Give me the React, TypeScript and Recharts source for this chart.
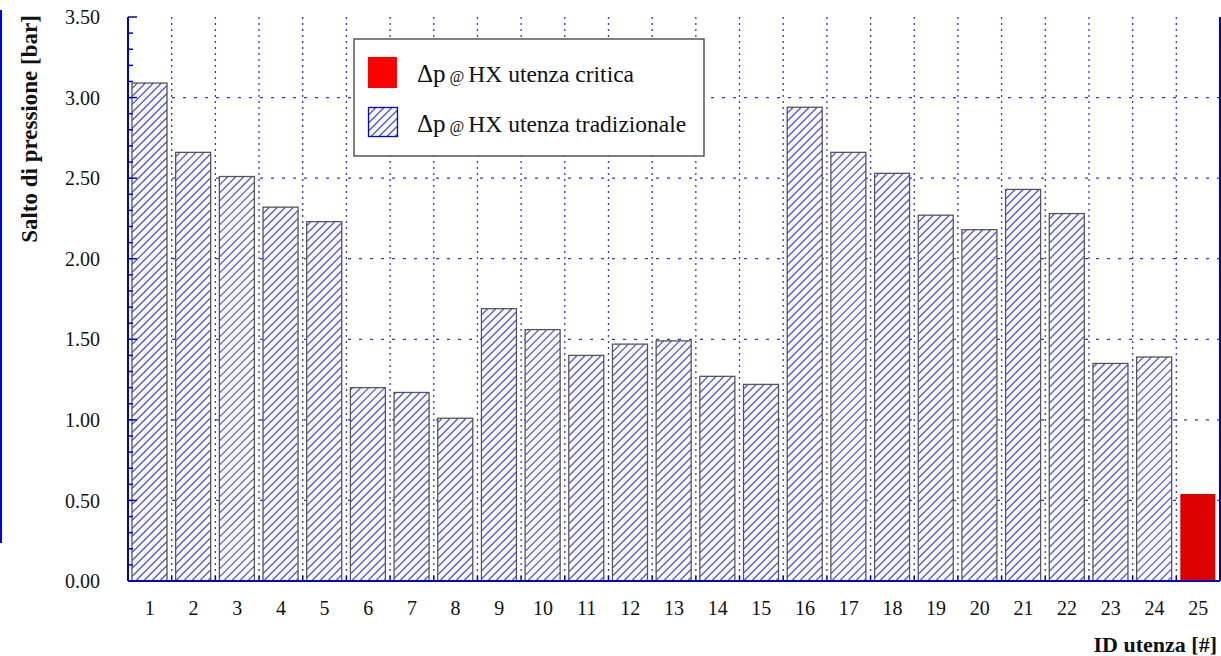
import React from 'react';
import { BarChart, Bar, XAxis, YAxis, CartesianGrid, Legend } from 'recharts';

const userIds = ['1','2','3','4','5','6','7','8','9','10','11','12','13','14','15','16','17','18','19','20','21','22','23','24','25'];
const pressureDrop = [3.09, 2.66, 2.51, 2.32, 2.23, 1.20, 1.17, 1.01, 1.69, 1.56, 1.40, 1.47, 1.49, 1.27, 1.22, 2.94, 2.66, 2.53, 2.27, 2.18, 2.43, 2.28, 1.35, 1.39, 0.54];
const criticalId = '25';
const yTickLabels = ['0.00', '0.50', '1.00', '1.50', '2.00', '2.50', '3.00', '3.50'];
const yMinorTicks = Array.from({ length: 36 }, (_, i) => Math.round(i * 10) / 100);
const gridValues = [0.5, 1, 1.5, 2, 2.5, 3];
const legendLabels = ['HX utenza critica', 'HX utenza tradizionale'];
const yTitle = 'Salto di pressione [bar]';
const xTitle = 'ID utenza [#]';

const data = userIds.map((id, i) => ({ id, value: pressureDrop[i] }));

const FONT = "'Liberation Serif', 'Times New Roman', serif";
const BLUE = '#0000cc';
const GRID = '#3535dd';
const HATCH = '#5656f0';
const HATCH_STEP = 8;
const HATCH_PHASE = 4.5;
const Y_MAX = 3.5;

const isMajor = (v: number) => Math.abs(v * 2 - Math.round(v * 2)) < 1e-6;

// diagonal "/" hatch lines x' + y' = c, c on a global 8px grid, clipped to the rectangle
function hatchLines(x: number, y: number, w: number, h: number, key: string) {
  const out: React.ReactNode[] = [];
  const cStart = Math.ceil((x + y - HATCH_PHASE) / HATCH_STEP) * HATCH_STEP + HATCH_PHASE;
  let k = 0;
  for (let c = cStart; c < x + w + y + h; c += HATCH_STEP) {
    const x1 = Math.max(x, c - y - h);
    const x2 = Math.min(x + w, c - y);
    if (x2 > x1) {
      out.push(
        <line key={`${key}-${k++}`} x1={x1} y1={c - x1} x2={x2} y2={c - x2} stroke={HATCH} strokeWidth={1.35} />
      );
    }
  }
  return out;
}

function HatchedBar(props: any) {
  const { x, y, width, height, payload, index } = props;
  if (!(width > 0) || !(height > 0)) return <g />;
  if (payload && payload.id === criticalId) {
    return <rect x={x} y={y} width={width} height={height} fill="#dc0000" />;
  }
  return (
    <g>
      <rect x={x} y={y} width={width} height={height} fill="#ffffff" />
      {hatchLines(x, y, width, height, `b${index}`)}
      <rect x={x} y={y} width={width} height={height} fill="none" stroke="#555" strokeWidth={1.3} />
    </g>
  );
}

function LeftTick(props: any) {
  const { x, y, payload } = props;
  const v = Number(payload.value);
  const major = isMajor(v);
  return (
    <g>
      <line x1={x} y1={y} x2={x + (major ? 9 : 5)} y2={y} stroke={BLUE} strokeWidth={1.5} />
      {major && (
        <text x={x - 28} y={y} dy="0.36em" textAnchor="end" fontFamily={FONT} fontSize={20} fill="#111">
          {yTickLabels[Math.round(v * 2)]}
        </text>
      )}
    </g>
  );
}

function RightTick(props: any) {
  const { x, y, payload } = props;
  const v = Number(payload.value);
  const major = isMajor(v);
  return <line x1={x} y1={y} x2={x - (major ? 9 : 5)} y2={y} stroke={BLUE} strokeWidth={1.5} />;
}

function stepOf(props: any) {
  const n = props.visibleTicksCount || userIds.length;
  const w = props.width || 1092;
  return w / n;
}

function BottomTick(props: any) {
  const { x, y, payload, index } = props;
  const step = stepOf(props);
  const n = props.visibleTicksCount || userIds.length;
  return (
    <g>
      {index < n - 1 && (
        <line x1={x + step / 2} y1={y} x2={x + step / 2} y2={y - 5} stroke={BLUE} strokeWidth={1.5} />
      )}
      <text x={x} y={y + 34} textAnchor="middle" fontFamily={FONT} fontSize={20} fill="#111">
        {payload.value}
      </text>
    </g>
  );
}

function TopTick(props: any) {
  const { x, y, index } = props;
  const step = stepOf(props);
  const n = props.visibleTicksCount || userIds.length;
  if (index >= n - 1) return <g />;
  return <line x1={x + step / 2} y1={y} x2={x + step / 2} y2={y + 5} stroke={BLUE} strokeWidth={1.5} />;
}

function YTitle() {
  return (
    <text x={37} y={129} transform="rotate(-90 37 129)" textAnchor="middle" fontFamily={FONT} fontWeight="bold" fontSize={23} fill="#111">
      {yTitle}
    </text>
  );
}

function XTitle() {
  return (
    <text x={1217} y={652} textAnchor="end" fontFamily={FONT} fontWeight="bold" fontSize={22} fill="#111">
      {xTitle}
    </text>
  );
}

function LegendLine({ y, label }: { y: number; label: string }) {
  return (
    <text x={64} y={y} fontFamily={FONT} fill="#111">
      <tspan fontSize={25}>Δp</tspan>
      <tspan fontSize={16}> @ </tspan>
      <tspan fontSize={23.5}>{label}</tspan>
    </text>
  );
}

function LegendBox() {
  return (
    <svg width={352} height={119} style={{ display: 'block' }}>
      <rect x={1} y={1} width={350} height={117} fill="#fff" stroke="#555" strokeWidth={1.5} />
      <rect x={15} y={19} width={29} height={31} fill="#ff0000" />
      <rect x={15.5} y={69.5} width={29} height={29} fill="#fff" />
      {hatchLines(15.5, 69.5, 29, 29, 'lg')}
      <rect x={15.5} y={69.5} width={29} height={29} fill="none" stroke="#0000ee" strokeWidth={1.3} />
      <LegendLine y={44} label={legendLabels[0]} />
      <LegendLine y={94} label={legendLabels[1]} />
    </svg>
  );
}

const vGen = (p: any) => {
  const off = p.offset;
  const n = userIds.length;
  return Array.from({ length: n - 1 }, (_, i) => off.left + ((i + 1) * off.width) / n);
};

const hGen = (p: any) => {
  const off = p.offset;
  const s = p.yAxis && p.yAxis.scale;
  return gridValues.map((v) => (typeof s === 'function' ? s(v) : off.top + off.height * (1 - v / Y_MAX)));
};

export default function App() {
  return (
    <div style={{ position: 'absolute', left: 0, top: 0, width: 1221, height: 656, background: '#fff' }}>
      <div style={{ position: 'absolute', left: 0, top: 10, width: 2, height: 533, background: '#0000ff' }} />
      <BarChart width={1221} height={656} data={data} margin={{ top: 17, right: 0, bottom: 0, left: 0 }}>
        <CartesianGrid vertical={false} horizontalCoordinatesGenerator={hGen} stroke={GRID} strokeWidth={1.3} strokeDasharray="3 8" />
        <CartesianGrid horizontal={false} verticalCoordinatesGenerator={vGen} stroke={GRID} strokeWidth={1.3} strokeDasharray="2 4" />
        <XAxis dataKey="id" height={75} interval={0} tickSize={0} tickMargin={0} tickLine={false}
          axisLine={{ stroke: BLUE, strokeWidth: 2 }} tick={<BottomTick />} label={<XTitle />} />
        <XAxis xAxisId="top" orientation="top" dataKey="id" height={0} interval={0} tickSize={0} tickMargin={0} tickLine={false}
          axisLine={{ stroke: BLUE, strokeWidth: 2 }} tick={<TopTick />} />
        <YAxis type="number" domain={[0, Y_MAX]} ticks={yMinorTicks} interval={0} width={128} tickSize={0} tickMargin={0}
          tickLine={false} axisLine={{ stroke: BLUE, strokeWidth: 2 }} tick={<LeftTick />} label={<YTitle />} />
        <YAxis yAxisId="right" orientation="right" type="number" domain={[0, Y_MAX]} ticks={yMinorTicks} interval={0} width={1}
          tickSize={0} tickMargin={0} tickLine={false} axisLine={{ stroke: BLUE, strokeWidth: 2 }} tick={<RightTick />} />
        <Legend layout="horizontal" verticalAlign="middle" align="center" content={<LegendBox />}
          wrapperStyle={{ left: 353, top: 38, width: 352, height: 119 }} />
        <Bar dataKey="value" isAnimationActive={false} barSize={35} shape={<HatchedBar />} />
      </BarChart>
    </div>
  );
}
